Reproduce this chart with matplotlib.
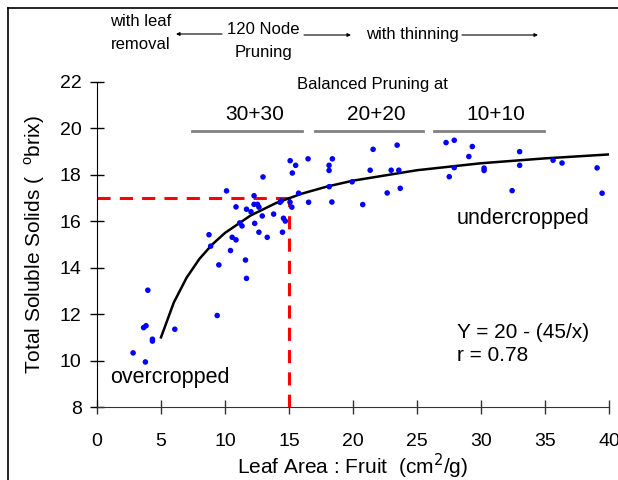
import matplotlib
matplotlib.use("Agg")
import matplotlib.pyplot as plt
from matplotlib.lines import Line2D

plt.rcParams["font.family"] = ["Liberation Sans", "DejaVu Sans"]

# leaf area : fruit (cm2/g) vs total soluble solids (brix)
leaf_area = [2.82, 3.78, 3.64, 3.83, 3.97, 4.33, 4.33, 6.08, 9.39, 8.75,
             8.88, 9.52, 10.12, 10.43, 10.56, 10.86, 10.86, 11.15, 11.33, 11.60,
             11.68, 11.68, 12.03, 12.27, 12.27, 12.54, 12.65, 12.32, 12.65, 12.91,
             12.97, 13.30, 13.80, 14.30, 14.40, 14.49, 14.57, 14.71, 15.09, 15.26,
             15.52, 15.08, 15.22, 15.75, 16.49, 16.53, 18.13, 18.13, 18.39, 18.14,
             18.35, 19.93, 20.76, 21.34, 21.57, 22.67, 22.98, 23.45, 23.58, 23.69,
             27.27, 27.91, 27.52, 27.91, 29.05, 29.32, 30.24, 30.24, 32.43, 33.02,
             33.02, 35.63, 36.33, 39.07, 39.46]
brix = [10.33, 9.94, 11.42, 11.50, 13.03, 10.92, 10.84, 11.35, 11.94, 15.42,
        14.93, 14.12, 17.31, 14.74, 15.31, 15.20, 16.62, 15.93, 15.80, 14.33,
        13.54, 16.52, 16.41, 17.10, 16.73, 16.73, 16.61, 15.91, 15.53, 16.23,
        17.91, 15.31, 16.31, 16.82, 16.88, 15.53, 16.13, 16.01, 18.61, 18.08,
        18.41, 16.82, 16.61, 17.21, 18.69, 16.82, 18.41, 18.19, 18.69, 17.49,
        16.83, 17.70, 16.72, 18.20, 19.10, 17.22, 18.20, 19.28, 18.20, 17.42,
        19.39, 19.49, 17.92, 18.31, 18.79, 19.22, 18.29, 18.19, 17.32, 19.00,
        18.41, 18.63, 18.51, 18.30, 17.21]

# fitted curve Y = 20 - (45/x)
fit_x = [5, 6, 7, 8, 9, 10, 12, 14, 16, 18, 20, 25, 30, 35, 40]
fit_y = [11.0, 12.5, 13.57, 14.38, 15.0, 15.5, 16.25, 16.79, 17.19, 17.5,
         17.75, 18.2, 18.5, 18.71, 18.88]

ref_x = 15
ref_y = 17

groups = ["30+30", "20+20", "10+10"]

W, H = 618, 480
fig = plt.figure(figsize=(W / 100, H / 100), dpi=100)
ax = fig.add_axes([97 / W, 1 - 407 / H, 512 / W, 325 / H])

ax.plot(fit_x, fit_y, color="black", lw=1.8, zorder=3)
ax.scatter(leaf_area, brix, s=16, color="#0000ff", edgecolors="none", zorder=4)
ax.plot([0, ref_x], [ref_y, ref_y], color="red", lw=2.2,
        linestyle=(0, (4.3, 3)), zorder=2, clip_on=False)
ax.plot([ref_x, ref_x], [ref_y, 8], color="red", lw=2.2,
        linestyle=(1.5, (4.3, 3)), zorder=2, clip_on=False)

ax.set_xlim(0, 40)
ax.set_ylim(8, 22)
ax.set_xticks(range(0, 41, 5))
ax.set_yticks(range(8, 23, 2))
for s in ["top", "right"]:
    ax.spines[s].set_visible(False)
ax.spines["bottom"].set_color("#333333")
ax.tick_params(direction="inout", length=10, width=1, labelsize=14)
ax.tick_params(axis="x", pad=14, colors="#333333", labelcolor="black")
ax.tick_params(axis="y", pad=6)

ax.set_xlabel("Leaf Area : Fruit  (cm$^2$/g)", fontsize=15, labelpad=1)
ax.set_ylabel("Total Soluble Solids (  $^{\\mathregular{o}}$brix)", fontsize=15,
              labelpad=9)

ax.text(1.0, 9.25, "overcropped", fontsize=15.5, va="center")
ax.text(28.1, 16.14, "undercropped", fontsize=15.5, va="center")
ax.text(28.1, 11.19, "Y = 20 - (45/x)", fontsize=15, va="center")
ax.text(28.1, 10.2, "r = 0.78", fontsize=15, va="center")

# annotations above the plot (figure pixel positions)
def fp(x, y):
    return (x / W, 1 - y / H)

fig.text(*fp(372, 84), "Balanced Pruning at", fontsize=12, ha="center", va="center")
label_x = [255, 376, 496]
seg = [(192, 302), (315, 423), (434, 544)]
for g, lx, (x0, x1) in zip(groups, label_x, seg):
    fig.text(*fp(lx, 114), g, fontsize=15, ha="center", va="center")
    fig.add_artist(Line2D([x0 / W, x1 / W], [1 - 131 / H] * 2, color="#808080", lw=2))

fig.text(*fp(141, 33), "with leaf\nremoval", fontsize=12, ha="center", va="center",
         linespacing=1.6)
fig.text(*fp(263, 41), "120 Node\nPruning", fontsize=12, ha="center", va="center",
         linespacing=1.6)
fig.text(*fp(412, 35), "with thinning", fontsize=12, ha="center", va="center")

arrow = dict(arrowstyle="-|>", color="black", lw=0.8, mutation_scale=5,
             shrinkA=0, shrinkB=0)
fig.add_artist(matplotlib.patches.FancyArrowPatch(fp(222, 34), fp(176, 34),
                                                  transform=fig.transFigure, **arrow))
fig.add_artist(matplotlib.patches.FancyArrowPatch(fp(304, 35), fp(351, 35),
                                                  transform=fig.transFigure, **arrow))
fig.add_artist(matplotlib.patches.FancyArrowPatch(fp(462, 35), fp(538, 35),
                                                  transform=fig.transFigure, **arrow))

# outer frame (left and top edges visible)
fig.add_artist(Line2D([8 / W, 8 / W], [0, 1 - 8 / H], color="black", lw=1.2))
fig.add_artist(Line2D([8 / W, 1], [1 - 8 / H, 1 - 8 / H], color="black", lw=1.2))

fig.savefig("out.png", dpi=100)
